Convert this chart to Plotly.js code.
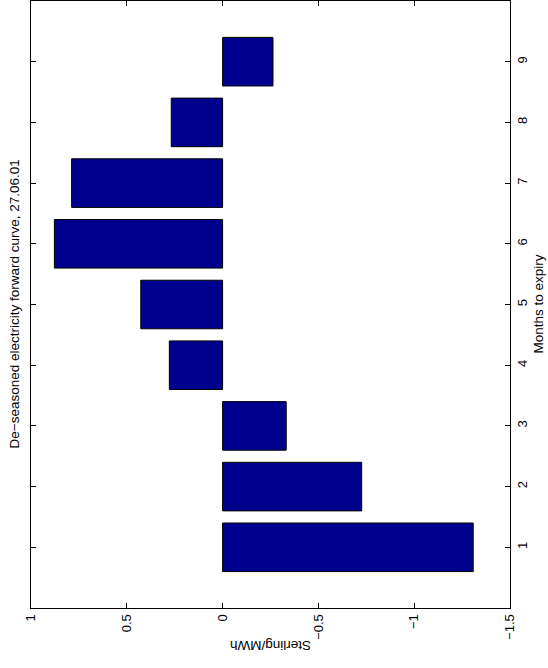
<!DOCTYPE html>
<html>
<head>
<meta charset="utf-8">
<script src="https://cdn.plot.ly/plotly-3.0.1.min.js"></script>
<style>
  html, body { margin: 0; padding: 0; background: #ffffff; }
  #chart { width: 548px; height: 668px; }
</style>
</head>
<body>
<div id="chart"></div>
<script>
// De-seasoned electricity forward curve (Sterling/MWh) by months to expiry
const months = [1, 2, 3, 4, 5, 6, 7, 8, 9];
const sterlingPerMWh = [-1.308, -0.726, -0.332, 0.278, 0.427, 0.878, 0.788, 0.268, -0.263];

const valueTicks = [1, 0.5, 0, -0.5, -1, -1.5];
const valueTickLabels = ['1', '0.5', '0', '\u22120.5', '\u22121', '\u22121.5'];

const titleText = 'De\u2212seasoned electricity forward curve, 27.06.01';
const monthsLabel = 'Months to expiry';
const valueLabel = 'Sterling/MWh';

const font = { family: 'Liberation Sans, Arial, Helvetica, sans-serif', size: 13.5, color: '#000000' };
const tickFont = { family: 'Liberation Sans, Arial, Helvetica, sans-serif', size: 13, color: '#000000' };

const trace = {
  type: 'bar',
  orientation: 'h',
  y: months,
  x: sterlingPerMWh,
  width: 0.8,
  marker: { color: '#00008F', line: { color: '#000000', width: 1 } },
  hoverinfo: 'x+y'
};

const W = 548, H = 668;
const margin = { l: 31, r: 38, t: 1, b: 60, pad: 0 };
const plotW = W - margin.l - margin.r;
const plotH = H - margin.t - margin.b;

const layout = {
  width: W,
  height: H,
  margin: margin,
  paper_bgcolor: '#ffffff',
  plot_bgcolor: '#ffffff',
  font: font,
  showlegend: false,
  bargap: 0,
  xaxis: {
    range: [1, -1.5],
    tickvals: valueTicks,
    ticktext: valueTickLabels,
    tickangle: -90,
    ticks: 'inside',
    ticklen: 5,
    tickcolor: '#000000',
    tickwidth: 1,
    showline: true,
    linecolor: '#000000',
    linewidth: 1,
    mirror: 'ticks',
    showgrid: false,
    zeroline: false,
    tickfont: tickFont
  },
  yaxis: {
    range: [0, 10],
    side: 'right',
    tickvals: months,
    ticktext: months.map(String),
    tickangle: -90,
    ticks: 'inside',
    ticklen: 5,
    tickcolor: '#000000',
    tickwidth: 1,
    showline: true,
    linecolor: '#000000',
    linewidth: 1,
    mirror: 'ticks',
    showgrid: false,
    zeroline: false,
    tickfont: tickFont
  },
  annotations: [
    {
      text: titleText,
      xref: 'paper', yref: 'paper',
      x: (14 - margin.l) / plotW, y: 0.5,
      xanchor: 'center', yanchor: 'middle',
      textangle: -90,
      showarrow: false,
      font: font
    },
    {
      text: monthsLabel,
      xref: 'paper', yref: 'paper',
      x: (538 - margin.l) / plotW, y: 0.5,
      xanchor: 'center', yanchor: 'middle',
      textangle: -90,
      showarrow: false,
      font: font
    },
    {
      text: valueLabel,
      xref: 'paper', yref: 'paper',
      x: 0.5, y: -(646 - (H - margin.b)) / plotH,
      xanchor: 'center', yanchor: 'middle',
      textangle: 180,
      showarrow: false,
      font: font
    }
  ]
};

Plotly.newPlot('chart', [trace], layout, { displayModeBar: false, staticPlot: true });
</script>
</body>
</html>
